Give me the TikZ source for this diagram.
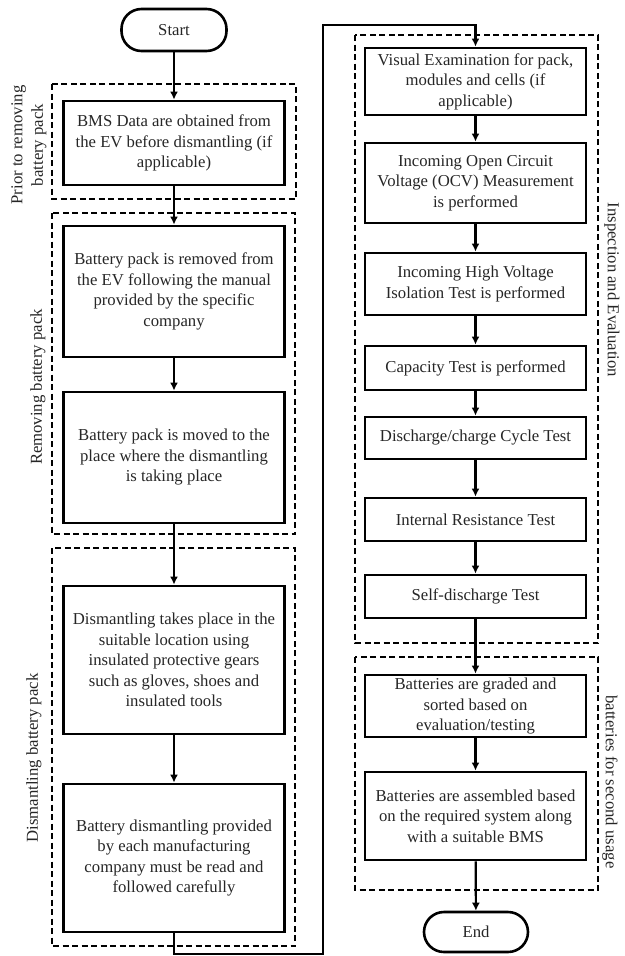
\documentclass[tikz,border=0pt]{standalone}
\usepackage{fontspec}
\setmainfont{Liberation Serif}
\usetikzlibrary{arrows.meta}
\begin{document}
\begin{tikzpicture}[x=1pt,y=-1pt,
  every node/.style={font=\fontsize{16.7}{20.5}\selectfont, text=black!85},
  stepbox/.style={draw=black, line width=2.8pt, align=center, inner sep=0pt, minimum width=221pt},
  term/.style={draw=black, line width=2.6pt, rounded corners=20pt, inner sep=0pt, minimum width=105pt, minimum height=42pt},
  grp/.style={draw=black, line width=1.4pt, dash pattern=on 6pt off 3.5pt},
  flow/.style={draw=black, line width=2.2pt, -{Latex[length=8pt,width=8pt]}},
  lbl/.style={align=center}]
\useasboundingbox (0,0) rectangle (624,956);
% groups
\draw[grp] (52,84) rectangle (296,199);
\draw[grp] (52,213) rectangle (295,534);
\draw[grp] (52,548) rectangle (295,946);
\draw[grp] (355,35) rectangle (598,643);
\draw[grp] (355,657) rectangle (598,890);
% left column
\node[term] (start) at (174,30) {Start};
\node[stepbox, minimum height=84pt] (bms) at (174,143) {BMS Data are obtained from\\the EV before dismantling (if\\applicable)};
\node[stepbox, minimum height=131pt] (rem) at (174,291.5) {Battery pack is removed from\\the EV following the manual\\provided by the specific\\company};
\node[stepbox, minimum height=131pt] (mov) at (174,457.5) {Battery pack is moved to the\\place where the dismantling\\is taking place};
\node[stepbox, minimum height=148pt] (dis) at (174,660) {Dismantling takes place in the\\suitable location using\\insulated protective gears\\such as gloves, shoes and\\insulated tools};
\node[stepbox, minimum height=148pt] (man) at (174,858) {Battery dismantling provided\\by each manufacturing\\company must be read and\\followed carefully};
% right column
\node[stepbox, minimum height=67pt] (vis) at (475.5,81.5) {Visual Examination for pack,\\modules and cells (if\\applicable)};
\node[stepbox, minimum height=80pt] (ocv) at (475.5,183) {Incoming Open Circuit\\Voltage (OCV) Measurement\\is performed};
\node[stepbox, minimum height=62pt] (iso) at (475.5,284) {Incoming High Voltage\\Isolation Test is performed};
\node[stepbox, minimum height=44pt] (cap) at (475.5,368) {Capacity Test is performed};
\node[stepbox, minimum height=42pt] (cyc) at (475.5,438) {Discharge/charge Cycle Test};
\node[stepbox, minimum height=43pt] (res) at (475.5,519.5) {Internal Resistance Test};
\node[stepbox, minimum height=43pt] (self) at (475.5,596.5) {Self-discharge Test};
\node[stepbox, minimum height=62pt] (grade) at (475.5,706) {Batteries are graded and\\sorted based on\\evaluation/testing};
\node[stepbox, minimum height=88pt] (asm) at (475.5,816) {Batteries are assembled based\\on the required system along\\with a suitable BMS};
\node[term, minimum width=104pt, minimum height=40pt] (end) at (476,932) {End};
% labels
\node[lbl, rotate=90] (l1) at (29,145) {Prior to removing\\battery pack};
\node[lbl, rotate=90] (l2) at (38,387) {Removing battery pack};
\node[lbl, rotate=90] (l3) at (34,758) {Dismantling battery pack};
\node[lbl, rotate=-90] (l4) at (612,290) {Inspection and Evaluation};
\node[lbl, rotate=-90] (l5) at (610,782) {batteries for second usage};
% connectors
\coordinate (c1) at (174,954);
\coordinate (c2) at (323,954);
\coordinate (c3) at (323,25);
\coordinate (c4) at (475.5,25);
\draw[flow] (start) -- (bms);
\draw[flow] (bms) -- (rem);
\draw[flow] (rem) -- (mov);
\draw[flow] (mov) -- (dis);
\draw[flow] (dis) -- (man);
\draw[flow, line join=miter] (man.south) -- (c1) -- (c2) -- (c3) -- (c4) -- (vis.north);
\draw[flow] (vis) -- (ocv);
\draw[flow] (ocv) -- (iso);
\draw[flow] (iso) -- (cap);
\draw[flow] (cap) -- (cyc);
\draw[flow] (cyc) -- (res);
\draw[flow] (res) -- (self);
\draw[flow] (self) -- (grade);
\draw[flow] (grade) -- (asm);
\draw[flow] (asm) -- (end);
\end{tikzpicture}
\end{document}
